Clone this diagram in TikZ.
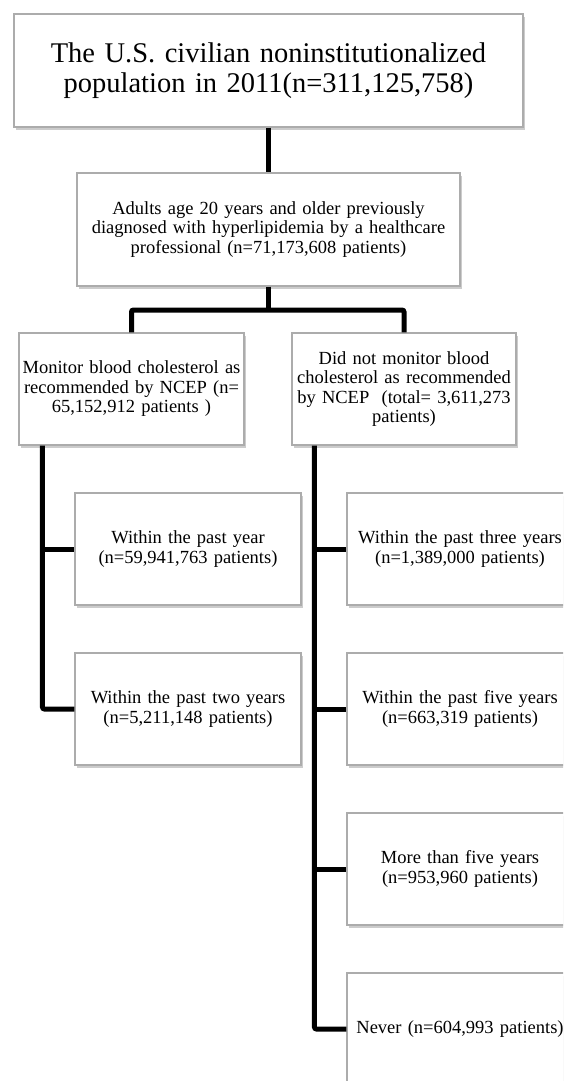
\documentclass[tikz,border=0pt]{standalone}
\usepackage{fontspec}
\setmainfont{Liberation Serif}
\usetikzlibrary{shadows}

\begin{document}
\begin{tikzpicture}[x=1pt, y=-1pt,
  box/.style={draw=gray!65, line width=1.1pt, fill=white, align=center, inner sep=2pt,
    font=\fontsize{18.5}{19.5}\selectfont,
    drop shadow={shadow xshift=2pt, shadow yshift=-3pt, fill=gray, opacity=0.4}},
  link/.style={line width=5pt, rounded corners=2pt}]
  % 画布：与原图同大小，右侧与底部的框被裁掉
  \path[use as bounding box] (0,0) rectangle (563,1081);
  \clip (0,0) rectangle (563,1081);

  % 上面两层
  \node[box, minimum width=509pt, minimum height=113pt, text width=495pt,
        font=\fontsize{28.5}{30}\selectfont] (pop) at (268.5,70.5)
    {The U.S. civilian noninstitutionalized\\population in 2011(n=311,125,758)};
  \node[box, minimum width=383pt, minimum height=113pt, text width=375pt] (adults) at (268.5,229.5)
    {Adults age 20 years and older previously\\diagnosed with hyperlipidemia by a healthcare\\professional (n=71,173,608 patients)};

  % 第二层：是否按 NCEP 监测
  \node[box, minimum width=225pt, minimum height=112pt, text width=218pt] (mon) at (131.5,389)
    {Monitor blood cholesterol as\\recommended by NCEP (n=\\65,152,912 patients )};
  \node[box, minimum width=224pt, minimum height=112pt, text width=218pt] (nomon) at (404,389)
    {Did not monitor blood\\cholesterol as recommended\\by NCEP~~(total= 3,611,273\\patients)};

  % 左列
  \node[box, minimum width=226pt, minimum height=112pt, text width=218pt] (m1) at (188,549)
    {Within the past year\\(n=59,941,763 patients)};
  \node[box, minimum width=226pt, minimum height=112pt, text width=218pt] (m2) at (188,709)
    {Within the past two years\\(n=5,211,148 patients)};

  % 右列（超出右边界）
  \node[box, minimum width=226pt, minimum height=112pt, text width=218pt] (n1) at (460,549)
    {Within the past three years\\(n=1,389,000 patients)};
  \node[box, minimum width=226pt, minimum height=112pt, text width=218pt] (n2) at (460,709)
    {Within the past five years\\(n=663,319 patients)};
  \node[box, minimum width=226pt, minimum height=112pt, text width=218pt] (n3) at (460,869)
    {More than five years\\(n=953,960 patients)};
  \node[box, minimum width=226pt, minimum height=112pt, text width=218pt] (n4) at (460,1029)
    {Never (n=604,993 patients)};

  % 连线
  \coordinate (split) at (268.5,310);
  \coordinate (ltop) at ([xshift=24pt]mon.south west);
  \coordinate (rtop) at ([xshift=23pt]nomon.south west);
  \draw[link] (pop.south) -- (adults.north);
  \draw[link] (adults.south) -- (split);
  \draw[link] (mon.north) |- (split) -| (nomon.north);
  \draw[link] (ltop) |- (m2.west);
  \draw[link] (ltop |- m1.west) -- (m1.west);
  \draw[link] (rtop) |- (n4.west);
  \draw[link] (rtop |- n1.west) -- (n1.west);
  \draw[link] (rtop |- n2.west) -- (n2.west);
  \draw[link] (rtop |- n3.west) -- (n3.west);
\end{tikzpicture}
\end{document}
